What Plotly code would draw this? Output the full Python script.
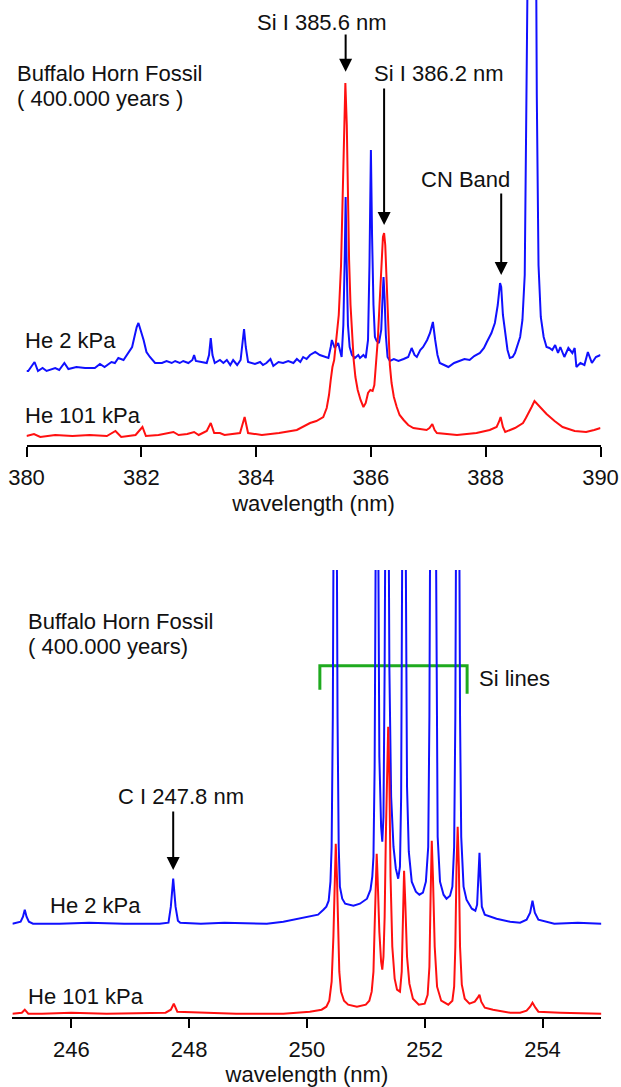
import plotly.graph_objects as go

W, H = 621, 1087

# ---------------- Top panel data (Si I 385.6 / 386.2 nm region) ----------------
top_blue_x = [380.00, 380.03, 380.14, 380.20, 380.28, 380.35, 380.50, 380.57, 380.66, 380.73,
              380.87, 381.02, 381.19, 381.28, 381.36, 381.48, 381.54, 381.60, 381.69, 381.77,
              381.84, 381.88, 381.92, 381.95, 381.99, 382.04, 382.09, 382.15, 382.24, 382.36,
              382.44, 382.53, 382.59, 382.67, 382.73, 382.82, 382.89, 382.92, 382.95, 383.05,
              383.14, 383.18, 383.21, 383.24, 383.28, 383.37, 383.43, 383.49, 383.55, 383.60,
              383.67, 383.73, 383.76, 383.79, 383.82, 383.86, 383.98, 384.07, 384.12, 384.18,
              384.25, 384.30, 384.39, 384.47, 384.56, 384.65, 384.71, 384.77, 384.82, 384.88,
              384.94, 385.03, 385.11, 385.20, 385.26, 385.30, 385.32, 385.37, 385.43, 385.49,
              385.52, 385.545, 385.56, 385.575, 385.60, 385.63, 385.67, 385.72, 385.78, 385.81,
              385.87, 385.91, 385.95, 385.975, 386.00, 386.02, 386.045, 386.07, 386.10, 386.14,
              386.18, 386.205, 386.22, 386.24, 386.26, 386.29, 386.33, 386.40, 386.48, 386.57,
              386.65, 386.71, 386.76, 386.80, 386.86, 386.91, 386.98, 387.03, 387.08, 387.12,
              387.16, 387.20, 387.35, 387.45, 387.55, 387.63, 387.72, 387.80, 387.90, 387.97,
              388.02, 388.10, 388.16, 388.21, 388.25, 388.27, 388.30, 388.34, 388.38, 388.42,
              388.47, 388.51, 388.56, 388.60, 388.64, 388.68, 388.71, 388.74, 388.80, 388.86,
              388.89, 388.92, 388.96, 389.01, 389.06, 389.11, 389.16, 389.21, 389.26, 389.30,
              389.37, 389.44, 389.51, 389.55, 389.58, 389.65, 389.72, 389.78, 389.85, 389.92,
              390.00]
top_blue_y = [74, 74, 83, 74, 77, 74, 77, 75, 82, 76,
              78, 77, 77, 81, 78, 83, 82, 87, 85, 92,
              98, 108, 118, 122, 115, 105, 93, 88, 82, 82,
              84, 82, 84, 82, 84, 82, 85, 90, 84, 83,
              82, 90, 107, 90, 82, 85, 82, 85, 80, 85,
              80, 85, 100, 116, 98, 83, 81, 83, 80, 82,
              86, 79, 83, 82, 84, 82, 86, 83, 88, 86,
              90, 93, 90, 88, 87, 98, 105, 97, 102, 88,
              120, 190, 248, 190, 120, 98, 90, 87, 90, 87,
              90, 87, 105, 180, 295, 210, 140, 108, 104, 102,
              115, 150, 168, 145, 110, 88, 84, 86, 84, 86,
              88, 97, 90, 88, 95, 98, 105, 112, 123, 105,
              90, 82, 78, 82, 84, 86, 85, 89, 92, 97,
              103, 112, 122, 140, 162, 158, 130, 112, 95, 87,
              88, 92, 100, 108, 125, 170, 350, 700, 900, 700,
              350, 180, 128, 108, 98, 97, 95, 100, 92, 98,
              88, 97, 92, 97, 78, 82, 80, 93, 82, 88,
              90]

top_red_x = [380.00, 380.13, 380.24, 380.50, 380.80, 381.10, 381.40, 381.55, 381.65, 381.90,
             382.02, 382.08, 382.30, 382.56, 382.65, 382.80, 382.92, 383.00, 383.14, 383.21,
             383.27, 383.37, 383.45, 383.60, 383.72, 383.80, 383.86, 384.10, 384.40, 384.71,
             384.85, 384.94, 385.05, 385.17, 385.23, 385.27, 385.30, 385.33, 385.36, 385.40,
             385.44, 385.48, 385.51, 385.535, 385.555, 385.58, 385.60, 385.62, 385.645, 385.67,
             385.70, 385.73, 385.77, 385.82, 385.87, 385.91, 385.95, 385.99, 386.03, 386.06,
             386.09, 386.12, 386.15, 386.18, 386.21, 386.23, 386.25, 386.27, 386.29, 386.31,
             386.33, 386.36, 386.40, 386.45, 386.50, 386.57, 386.65, 386.74, 386.85, 386.97,
             387.02, 387.07, 387.11, 387.15, 387.50, 387.84, 388.07, 388.19, 388.23, 388.26,
             388.30, 388.34, 388.51, 388.60, 388.65, 388.70, 388.75, 388.80, 388.85, 388.90,
             388.96, 389.06, 389.20, 389.34, 389.55, 389.75, 389.89, 390.00]
top_red_y = [9, 11, 8, 10, 9, 10, 9, 14, 8, 10,
             18, 9, 10, 13, 10, 11, 13, 10, 14, 22,
             12, 12, 10, 11, 12, 28, 12, 10, 12, 15,
             19, 22, 24, 28, 37, 50, 65, 78, 85, 105,
             130, 180, 245, 310, 362, 320, 240, 185, 140, 112,
             85, 68, 55, 45, 38, 42, 52, 55, 54, 60,
             80, 105, 140, 180, 208, 212, 200, 170, 140, 105,
             80, 62, 48, 38, 30, 25, 20, 17, 16, 15,
             17, 21, 15, 12, 10, 12, 15, 18, 23, 28,
             18, 13, 17, 20, 22, 27, 32, 38, 44, 41,
             37, 31, 24, 18, 14, 13, 15, 17]

# ---------------- Bottom panel data (Si lines near 251 nm) ----------------
bot_blue_x = [245.00, 245.14, 245.18, 245.21, 245.24, 245.28, 245.35, 245.80, 246.30, 246.90,
              247.50, 247.65, 247.69, 247.73, 247.77, 247.81, 247.85, 248.20, 248.60, 249.03,
              249.32, 249.60, 249.88, 250.05, 250.19, 250.28, 250.33, 250.37, 250.40, 250.42,
              250.44, 250.46, 250.48, 250.50, 250.52, 250.54, 250.56, 250.60, 250.65, 250.79,
              250.90, 251.02, 251.08, 251.11, 251.13, 251.15, 251.17, 251.19, 251.21, 251.23,
              251.26, 251.28, 251.30, 251.32, 251.34, 251.36, 251.38, 251.40, 251.43, 251.47,
              251.51, 251.55, 251.58, 251.60, 251.62, 251.65, 251.68, 251.70, 251.73, 251.78,
              251.85, 251.91, 251.97, 252.02, 252.06, 252.08, 252.10, 252.14, 252.18, 252.20,
              252.22, 252.26, 252.32, 252.37, 252.43, 252.47, 252.50, 252.52, 252.54, 252.56,
              252.58, 252.60, 252.62, 252.66, 252.71, 252.80, 252.86, 252.89, 252.91, 252.93,
              252.95, 252.97, 253.02, 253.22, 253.45, 253.62, 253.73, 253.79, 253.83, 253.87,
              253.93, 254.20, 254.60, 255.00]
bot_blue_y = [93, 95, 100, 107, 100, 95, 93, 93, 94, 93,
              93, 94, 110, 138, 110, 96, 94, 93, 94, 93,
              93, 95, 98, 100, 102, 107, 110, 116, 135, 170,
              300, 600, 900, 600, 300, 170, 130, 118, 113, 111,
              113, 118, 127, 140, 160, 250, 500, 900, 500, 260,
              190, 175, 200, 350, 600, 900, 600, 350, 220, 170,
              148, 138, 150, 220, 450, 900, 450, 230, 165, 135,
              125, 122, 124, 135, 170, 300, 600, 900, 600, 300,
              180, 135, 122, 118, 121, 130, 170, 300, 600, 900,
              600, 300, 180, 130, 117, 108, 106, 112, 135, 164,
              135, 110, 102, 98, 95, 94, 97, 104, 116, 104,
              97, 93, 94, 93]

bot_red_x = [245.00, 245.16, 245.21, 245.27, 245.50, 246.00, 246.60, 247.20, 247.60, 247.69,
             247.74, 247.80, 248.20, 248.80, 249.60, 250.05, 250.25, 250.33, 250.38, 250.42,
             250.45, 250.47, 250.49, 250.51, 250.53, 250.55, 250.58, 250.63, 250.70, 250.85,
             251.00, 251.06, 251.10, 251.13, 251.15, 251.17, 251.185, 251.20, 251.23, 251.26,
             251.28, 251.30, 251.32, 251.34, 251.36, 251.38, 251.40, 251.42, 251.45, 251.49,
             251.53, 251.58, 251.61, 251.63, 251.65, 251.67, 251.70, 251.74, 251.80, 251.90,
             252.00, 252.05, 252.08, 252.10, 252.12, 252.14, 252.17, 252.21, 252.28, 252.40,
             252.47, 252.50, 252.52, 252.54, 252.56, 252.58, 252.60, 252.63, 252.68, 252.76,
             252.85, 252.90, 252.93, 252.96, 253.02, 253.16, 253.45, 253.62, 253.73, 253.79,
             253.83, 253.88, 253.93, 254.30, 255.00]
bot_red_y = [3, 4, 7, 3, 3, 4, 3, 4, 4, 7,
             13, 5, 4, 3, 3, 5, 7, 10, 16, 35,
             80, 140, 173, 140, 80, 45, 25, 16, 12, 10,
             12, 16, 25, 45, 90, 145, 163, 140, 85, 55,
             47, 60, 100, 180, 260, 290, 240, 140, 70, 38,
             27, 25, 45, 110, 146, 115, 60, 33, 18, 12,
             13, 22, 50, 120, 176, 140, 70, 30, 16, 12,
             16, 30, 70, 150, 190, 150, 70, 32, 18, 13,
             15, 19, 22, 15, 9, 7, 4, 4, 6, 10,
             14, 9, 5, 4, 3]

top_ticks = [380, 382, 384, 386, 388, 390]
bot_ticks = [246, 248, 250, 252, 254]

# Si lines bracket (wavelength span, heights)
si_bracket_x = [250.22, 252.72]
si_bracket_top = 351
si_bracket_left_bottom = 327
si_bracket_right_bottom = 323

BLUE = "#1010ff"
RED = "#ff1010"
GREEN = "#1faa1f"
FONT = "Liberation Sans, Arial, sans-serif"
FS = 22

fig = go.Figure()
fig.add_trace(go.Scatter(x=top_blue_x, y=top_blue_y, mode="lines",
                         line=dict(color=BLUE, width=2), xaxis="x", yaxis="y", showlegend=False))
fig.add_trace(go.Scatter(x=top_red_x, y=top_red_y, mode="lines",
                         line=dict(color=RED, width=2), xaxis="x", yaxis="y", showlegend=False))
fig.add_trace(go.Scatter(x=bot_blue_x, y=bot_blue_y, mode="lines",
                         line=dict(color=BLUE, width=2), xaxis="x2", yaxis="y2", showlegend=False))
fig.add_trace(go.Scatter(x=bot_red_x, y=bot_red_y, mode="lines",
                         line=dict(color=RED, width=2), xaxis="x2", yaxis="y2", showlegend=False))


def px(xp):
    return xp / W


def py(yp):
    return 1 - yp / H


axis_common = dict(showgrid=False, zeroline=False, showline=True, linecolor="black", linewidth=1.5,
                   ticks="outside", ticklen=10, tickwidth=1.5, tickcolor="black", automargin=False,
                   tickfont=dict(family=FONT, size=FS, color="#111"),
                   title=dict(text="wavelength (nm)", font=dict(family=FONT, size=FS, color="#111"),
                              standoff=6),
                   ticklabelstandoff=2)

fig.update_layout(
    width=W, height=H, margin=dict(l=0, r=0, t=0, b=0, pad=0, autoexpand=False),
    paper_bgcolor="white", plot_bgcolor="white", showlegend=False,
    xaxis=dict(domain=[px(26.5), px(600.5)], range=[380, 390], tickvals=top_ticks,
               anchor="y", **axis_common),
    yaxis=dict(domain=[py(445), 1.0], range=[0, 445], visible=False, automargin=False),
    xaxis2=dict(domain=[px(12.4), px(601.4)], range=[245, 255], tickvals=bot_ticks,
                anchor="y2", **axis_common),
    yaxis2=dict(domain=[py(1016.7), py(570)], range=[0, 446.7], visible=False, automargin=False),
)

# bracket
fig.add_shape(type="path", xref="x2", yref="y2", layer="below",
              path=f"M {si_bracket_x[0]},{si_bracket_left_bottom} L {si_bracket_x[0]},{si_bracket_top} "
                   f"L {si_bracket_x[1]},{si_bracket_top} L {si_bracket_x[1]},{si_bracket_right_bottom}",
              line=dict(color=GREEN, width=3))


def text(t, xp, yp, anchor="left"):
    fig.add_annotation(text=t, x=px(xp), y=py(yp), xref="paper", yref="paper",
                       xanchor=anchor, yanchor="middle", showarrow=False,
                       font=dict(family=FONT, size=FS, color="#111"))


def arrow(x, y, ay, xref, yref):
    fig.add_annotation(text="", x=x, y=y, xref=xref, yref=yref, ax=0, ay=ay,
                       showarrow=True, arrowhead=2, arrowsize=1.3, arrowwidth=2, arrowcolor="black",
                       standoff=0, startstandoff=0)


# top texts
text("Si I 385.6 nm", 321.8, 22.7, "center")
text("Buffalo Horn Fossil", 15, 73)
text("( 400.000 years )", 15, 99)
text("Si I 386.2 nm", 439, 74, "center")
text("CN Band", 465, 179, "center")
text("He 2 kPa", 22.6, 340)
text("He 101 kPa", 22.6, 415)
arrow(385.56, 373.3, -38.7, "x", "y")
arrow(386.23, 220, -138, "x", "y")
arrow(388.27, 170, -83, "x", "y")

# bottom texts
text("Buffalo Horn Fossil", 25.7, 621.7)
text("( 400.000 years)", 25.7, 646)
text("Si lines", 477.2, 678.3)
text("C I 247.8 nm", 181, 796.7, "center")
text("He 2 kPa", 48.3, 905)
text("He 101 kPa", 25.7, 996.7)
arrow(247.73, 146.7, -60, "x2", "y2")

fig.write_html("out.html")
